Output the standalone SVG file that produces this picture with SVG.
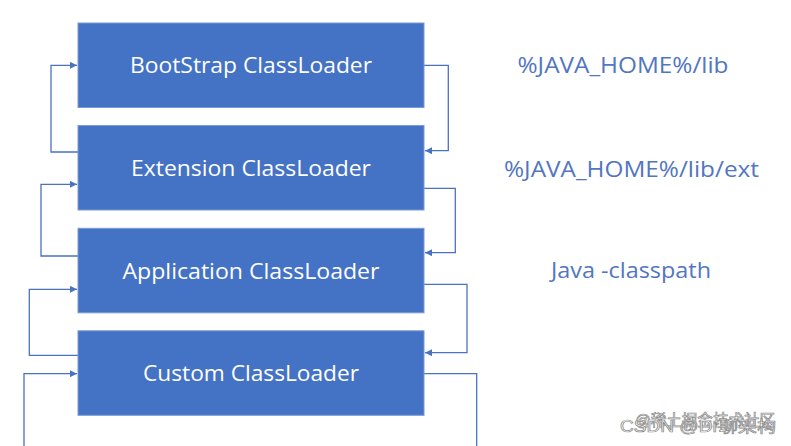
<svg xmlns="http://www.w3.org/2000/svg" width="791" height="446" viewBox="0 0 791 446">
<defs>
<marker id="ah" viewBox="0 0 10 10" refX="10" refY="5" markerWidth="7" markerHeight="7" markerUnits="userSpaceOnUse" orient="auto">
<path d="M0,0 L10,5 L0,10 z" fill="#4a72c0"/>
</marker>
</defs>
<style>
.box{fill:#4472c4;stroke:#7a9ad6;stroke-width:1}
.lbl{fill:#ffffff;font-family:"Open Sans","Noto Sans",sans-serif;font-size:22px;text-anchor:middle}
.path{fill:#5276bf;font-family:"Open Sans","Noto Sans",sans-serif;font-size:22px}
.wire{fill:none;stroke:#4a72c0;stroke-width:1.3}
.arr{marker-end:url(#ah)}
.wm{font-family:"Liberation Sans","Noto Sans CJK SC",sans-serif;font-size:16px;fill:#ffffff;stroke:#8a8a8a;stroke-width:0.7}
</style>
<rect width="791" height="446" fill="#ffffff"/>
<g id="connectors">
<path class="wire arr" d="M78,152 H51 V65.3 H77"/>
<path class="wire arr" d="M78,256 H41 V184.3 H77"/>
<path class="wire arr" d="M78,355.3 H29.3 V289.3 H77"/>
<path class="wire arr" d="M24,446 V373.7 H77"/>
<path class="wire arr" d="M424,65.3 H448.3 V150.7 H425"/>
<path class="wire arr" d="M424,188.3 H455.3 V252.7 H425"/>
<path class="wire arr" d="M424,284.3 H467 V352.7 H425"/>
<path class="wire" d="M424,373.7 H476.7 V446"/>
</g>
<g id="bootstrap">
<rect class="box" x="78" y="23" width="346" height="84.5"/>
<text class="lbl" x="251" y="73" textLength="242" lengthAdjust="spacingAndGlyphs">BootStrap ClassLoader</text>
</g>
<g id="extension">
<rect class="box" x="78" y="125.5" width="346" height="84.5"/>
<text class="lbl" x="251" y="176" textLength="240" lengthAdjust="spacingAndGlyphs">Extension ClassLoader</text>
</g>
<g id="application">
<rect class="box" x="78" y="228.3" width="346" height="84.5"/>
<text class="lbl" x="251" y="278.5" textLength="257" lengthAdjust="spacingAndGlyphs">Application ClassLoader</text>
</g>
<g id="custom">
<rect class="box" x="78" y="330.8" width="346" height="84.5"/>
<text class="lbl" x="251" y="381" textLength="216" lengthAdjust="spacingAndGlyphs">Custom ClassLoader</text>
</g>
<g id="paths">
<text class="path" x="517.5" y="73" textLength="211" lengthAdjust="spacingAndGlyphs">%JAVA_HOME%/lib</text>
<text class="path" x="504" y="176.5" textLength="255" lengthAdjust="spacingAndGlyphs">%JAVA_HOME%/lib/ext</text>
<text class="path" x="551" y="278" textLength="160" lengthAdjust="spacingAndGlyphs">Java -classpath</text>
</g>
<g id="watermark">
<text class="wm" x="635" y="426" textLength="140" lengthAdjust="spacingAndGlyphs">@稀土掘金技术社区</text>
<text class="wm" x="620" y="432" textLength="156" lengthAdjust="spacingAndGlyphs">CSDN @Dr聊架构</text>
</g>
</svg>
